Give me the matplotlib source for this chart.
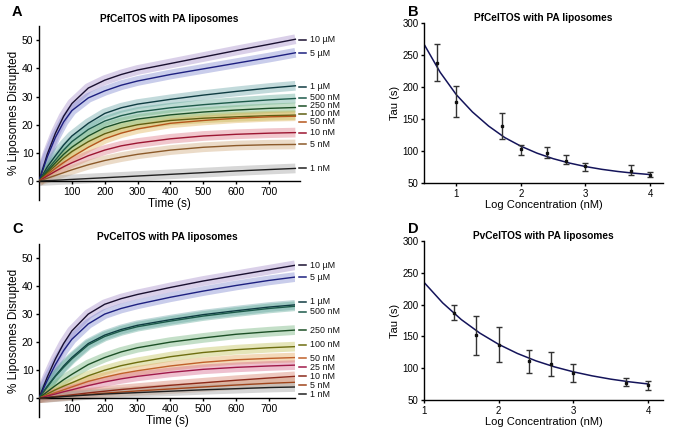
import matplotlib
matplotlib.use("Agg")
import matplotlib.pyplot as plt
import matplotlib.transforms as mtransforms

plt.rcParams['font.family'] = ['Liberation Sans', 'DejaVu Sans']

# ---------------- data ----------------
time_s = [0, 25, 50, 75, 100, 150, 200, 250, 300, 400, 500, 600, 700, 780]

pf_labels = ["10 \u00b5M", "5 \u00b5M", "1 \u00b5M", "500 nM", "250 nM", "100 nM",
             "50 nM", "10 nM", "5 nM", "1 nM"]
pf_curves = [
    [0, 9.5, 17, 23, 27.5, 33, 35.8, 37.8, 39.4, 41.7, 44, 46.3, 48.5, 50.3],
    [0, 8.5, 15.5, 21, 25, 29.5, 32, 34, 35.5, 37.8, 39.8, 41.8, 43.8, 45.5],
    [0, 5, 9, 12.8, 16, 20.5, 24, 26, 27.3, 29, 30.5, 31.8, 33, 33.8],
    [0, 4, 7.5, 11, 14, 18.3, 21.3, 23.2, 24.5, 26, 27.1, 28, 28.8, 29.3],
    [0, 3.4, 6.5, 9.5, 12, 16, 19, 20.8, 22, 23.5, 24.5, 25.2, 25.8, 26.1],
    [0, 2.9, 5.5, 8.2, 10.5, 14, 16.8, 18.7, 20, 21.5, 22.3, 22.8, 23.2, 23.4],
    [0, 2.3, 4.5, 6.6, 8.5, 12, 15, 17, 18.5, 20.5, 21.5, 22.3, 22.8, 23],
    [0, 1.8, 3.5, 5.1, 6.5, 9, 11, 12.5, 13.5, 15, 16, 16.6, 17, 17.2],
    [0, 1, 2, 3, 4, 5.8, 7.3, 8.5, 9.5, 11, 12, 12.6, 12.9, 13],
    [0, 0.15, 0.3, 0.45, 0.6, 0.9, 1.2, 1.5, 1.8, 2.4, 3, 3.6, 4.1, 4.5],
]
pf_label_y = [50.2, 45.3, 33.5, 29.5, 26.7, 23.9, 21.0, 17.1, 13.0, 4.5]

pv_labels = ["10 \u00b5M", "5 \u00b5M", "1 \u00b5M", "500 nM", "250 nM", "100 nM",
             "50 nM", "25 nM", "10 nM", "5 nM", "1 nM"]
pv_curves = [
    [0, 7.5, 14, 19.5, 24, 30, 33.5, 35.5, 37, 39.5, 41.8, 43.8, 45.8, 47.4],
    [0, 6.3, 12, 17, 21, 26.5, 30, 32, 33.5, 36, 38.2, 40.2, 42, 43.2],
    [0, 4.2, 8, 11.5, 14.5, 19.5, 22.5, 24.5, 26, 28, 29.8, 31.2, 32.5, 33.3],
    [0, 4, 7.8, 11, 14, 19, 22, 24, 25.5, 27.5, 29.3, 30.7, 32, 32.8],
    [0, 2.3, 4.5, 6.6, 8.5, 12, 14.5, 16.5, 18, 20, 21.5, 22.8, 23.7, 24.3],
    [0, 1.5, 3, 4.3, 5.5, 8, 10, 11.6, 12.8, 14.8, 16.3, 17.3, 18, 18.4],
    [0, 1, 2, 3, 4, 6, 7.5, 8.8, 9.8, 11.5, 12.8, 13.7, 14.2, 14.5],
    [0, 0.8, 1.5, 2.3, 3, 4.5, 5.8, 6.9, 7.8, 9.2, 10.3, 11, 11.5, 11.8],
    [0, 0.3, 0.6, 0.9, 1.2, 1.9, 2.5, 3.1, 3.6, 4.6, 5.5, 6.4, 7.2, 7.8],
    [0, 0.22, 0.45, 0.68, 0.9, 1.35, 1.8, 2.2, 2.6, 3.3, 4, 4.7, 5.3, 5.7],
    [0, 0.2, 0.4, 0.6, 0.8, 1.15, 1.5, 1.75, 2, 2.5, 3, 3.4, 3.8, 4],
]
pv_label_y = [47.4, 43.2, 34.4, 30.9, 24.3, 19.0, 14.2, 11.0, 7.8, 4.6, 1.4]

# Tau vs log concentration
pf_logc = [0.7, 1.0, 1.7, 2.0, 2.4, 2.7, 3.0, 3.7, 4.0]
pf_tau = [238, 177, 139, 103, 97, 85, 77, 69, 63]
pf_tau_hi = [267, 201, 159, 110, 107, 93, 81, 78, 67]
pf_tau_lo = [210, 153, 118, 94, 89, 79, 69, 63, 59]
pf_fit_x = [0.5, 0.75, 1.0, 1.25, 1.5, 1.75, 2.0, 2.25, 2.5, 2.75, 3.0, 3.25, 3.5, 3.75, 4.0]
pf_fit_y = [267, 223, 188, 161, 139, 121, 107.5, 96.6, 88, 81.2, 75.7, 71.4, 68, 65.3, 63.2]

pv_logc = [1.4, 1.7, 2.0, 2.4, 2.7, 3.0, 3.7, 4.0]
pv_tau = [187, 152, 136, 112, 106, 92, 77, 73]
pv_tau_hi = [199, 182, 164, 128, 125, 107, 84, 80]
pv_tau_lo = [176, 121, 110, 93, 87, 78, 72, 66]
pv_fit_x = [1.0, 1.25, 1.5, 1.75, 2.0, 2.25, 2.5, 2.75, 3.0, 3.25, 3.5, 3.75, 4.0]
pv_fit_y = [235, 202.7, 176.4, 155, 137.5, 123.2, 111.5, 102, 94.3, 88, 82.8, 78.6, 75.2]

# ---------------- styles ----------------
pf_trace_colors = ["#a88fcb", "#8088d0", "#6fa8aa", "#62ab9a", "#74b47e", "#b5bd5a",
                   "#e0b45a", "#de7a88", "#d0aa7e", "#a0a0a0"]
pf_fit_colors = ["#1a1030", "#1d2080", "#0f3c42", "#1d5a4a", "#1c4f26", "#5e5e12",
                 "#b5561c", "#9c1632", "#8c5a2a", "#202020"]
pv_trace_colors = ["#a88fcb", "#8088d0", "#6fa8aa", "#62ab9a", "#74b47e", "#c2c25a",
                   "#e3a55a", "#d86a8e", "#d8806a", "#c99a7a", "#a0a0a0"]
pv_fit_colors = ["#1a1030", "#1d2080", "#0f3c42", "#1d5a4a", "#1c4f26", "#6e6e10",
                 "#c0602a", "#a01a4a", "#8c2a1a", "#a0441a", "#202020"]

W, H = 689, 433
fig = plt.figure(figsize=(W / 100, H / 100), dpi=100)


def ax_px(l, t, r, b):
    return fig.add_axes([l / W, 1 - b / H, (r - l) / W, (b - t) / H])


def style_axes(ax):
    for s in ("top", "right"):
        ax.spines[s].set_visible(False)
    for s in ("left", "bottom"):
        ax.spines[s].set_linewidth(1.0)
    ax.tick_params(direction="out", length=2.5, width=1.0, labelsize=7.5, pad=1.5)


def kinetics_panel(ax, curves, labels, label_y, trace_cols, fit_cols, title, xmax,
                   dash_x0, dash_x1, text_x):
    style_axes(ax)
    ax.spines["bottom"].set_position(("data", 0))
    for yv, tc in zip(curves, trace_cols):
        ax.plot(time_s, yv, color=tc, lw=7, alpha=0.42, solid_capstyle="butt",
                solid_joinstyle="round", zorder=1)
    for yv, fc in zip(curves, fit_cols):
        ax.plot(time_s, yv, color=fc, lw=1.0, zorder=3)
    ax.set_xlim(0, xmax)
    ax.set_ylim(-6.7, 55)
    ax.set_xticks([100, 200, 300, 400, 500, 600, 700])
    ax.set_yticks([0, 10, 20, 30, 40, 50])
    ax.set_xlabel("Time (s)", fontsize=8.5, labelpad=1)
    ax.set_ylabel("% Liposomes Disrupted", fontsize=8.5, labelpad=1)
    ax.set_title(title, fontsize=7.3, fontweight="bold", pad=3)
    tr = mtransforms.blended_transform_factory(fig.transFigure, ax.transData)
    for lab, yl, fc in zip(labels, label_y, fit_cols):
        ax.plot([dash_x0 / W, dash_x1 / W], [yl, yl], color=fc, lw=1.1,
                transform=tr, clip_on=False)
        ax.text(text_x / W, yl, lab, transform=tr, fontsize=6.4, va="center",
                ha="left", color="#111111")


def tau_panel(ax, xs, ys, hi, lo, fx, fy, title, xlim):
    style_axes(ax)
    ax.plot(fx, fy, color="#14145a", lw=1.1, zorder=2)
    yerr = [[y - l for y, l in zip(ys, lo)], [h - y for y, h in zip(ys, hi)]]
    ax.errorbar(xs, ys, yerr=yerr, fmt="s", ms=2, color="#111111", ecolor="#333333",
                elinewidth=1.0, capsize=2, capthick=1.0, zorder=3)
    ax.set_xlim(*xlim)
    ax.set_ylim(50, 300)
    ax.set_xticks([1, 2, 3, 4])
    ax.set_yticks([50, 100, 150, 200, 250, 300])
    ax.tick_params(labelsize=7)
    ax.set_xlabel("Log Concentration (nM)", fontsize=8, labelpad=1)
    ax.set_ylabel("Tau (s)", fontsize=8, labelpad=2)
    ax.set_title(title, fontsize=7.3, fontweight="bold", pad=1)


axA = ax_px(39, 26, 300, 200)
kinetics_panel(axA, pf_curves, pf_labels, pf_label_y, pf_trace_colors, pf_fit_colors,
               "PfCelTOS with PA liposomes", 794, 299, 306, 310)

axC = ax_px(39, 244, 295, 417)
kinetics_panel(axC, pv_curves, pv_labels, pv_label_y, pv_trace_colors, pv_fit_colors,
               "PvCelTOS with PA liposomes", 780, 299, 306, 310)

axB = ax_px(424, 23, 663, 183)
tau_panel(axB, pf_logc, pf_tau, pf_tau_hi, pf_tau_lo, pf_fit_x, pf_fit_y,
          "PfCelTOS with PA liposomes", (0.5, 4.2))

axD = ax_px(424, 241, 663, 400)
tau_panel(axD, pv_logc, pv_tau, pv_tau_hi, pv_tau_lo, pv_fit_x, pv_fit_y,
          "PvCelTOS with PA liposomes", (1.0, 4.2))

for letter, x, y in [("A", 12, 12), ("B", 408, 12), ("C", 12, 229), ("D", 408, 229)]:
    fig.text(x / W, 1 - y / H, letter, fontsize=10.5, fontweight="bold",
             va="center", ha="left")

fig.savefig("out.png", dpi=100)
